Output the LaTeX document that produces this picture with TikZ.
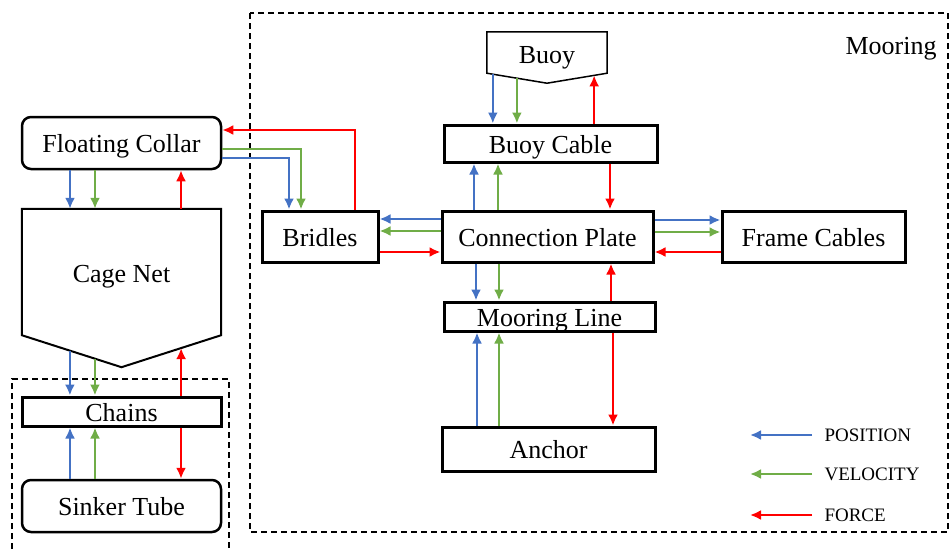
\documentclass[tikz,border=0pt]{standalone}
\usepackage{fontspec}
\setmainfont{Liberation Serif}
\usetikzlibrary{arrows.meta,calc}
\definecolor{posblue}{HTML}{4472C4}
\definecolor{velgreen}{HTML}{70AD47}
\definecolor{forcered}{HTML}{FF0000}

\begin{document}
\begin{tikzpicture}[x=1pt,y=-1pt,
  txt/.style={font=\fontsize{26}{30}\selectfont,text height=19.5pt,text depth=0pt},
  box/.style={txt,draw,line width=3pt,inner sep=0pt},
  rbox/.style={box,rounded corners=9pt,line width=2.5pt},
  ghost/.style={inner sep=0pt},
  sig/.style={line width=2.3pt,-{Latex[length=11pt,width=10pt]}},
  pa/.style={sig,posblue},
  va/.style={sig,velgreen},
  fa/.style={sig,forcered},
  region/.style={line width=1.3pt,dash pattern=on 6pt off 4pt},
  legtxt/.style={font=\fontsize{19}{22}\selectfont,anchor=west}]
\useasboundingbox (0,0) rectangle (951,549);

% dashed regions
\draw[region] (250,13) rectangle (948,532);
\draw[region] (12,549) -- (12,379) -- (229,379) -- (229,549);
\node[txt] (mooringlbl) at (891,45) {Mooring};

% cage side
\node[rbox,minimum width=199pt,minimum height=52pt] (fc) at (121.5,143) {Floating Collar};
\node[ghost,minimum width=199pt,minimum height=126pt] (cn) at (121.5,272) {};
\draw[line width=2pt,line join=miter]
  (cn.north west) -- (cn.north east) -- (cn.south east)
  -- ($(cn.south)+(0,32)$) -- (cn.south west) -- cycle;
\node[txt] (cnlbl) at (121.5,273) {Cage Net};
\node[box,minimum width=199pt,minimum height=29pt] (ch) at (121.5,411.5) {Chains};
\node[rbox,minimum width=199pt,minimum height=52pt] (st) at (121.5,506) {Sinker Tube};

% edge points on the cage net bottom
\coordinate (cnB1) at ($(cn.south west)!{48/99.5}!($(cn.south)+(0,32)$)$);
\coordinate (cnB2) at ($(cn.south west)!{73/99.5}!($(cn.south)+(0,32)$)$);
\coordinate (cnB3) at ($(cn.south east)!{40/99.5}!($(cn.south)+(0,32)$)$);

% mooring side
\node[ghost,minimum width=120pt,minimum height=41pt] (by) at (547,52.5) {};
\draw[line width=1.5pt,line join=miter]
  (by.north west) -- (by.north east) -- (by.south east)
  -- ($(by.south)+(0,10)$) -- (by.south west) -- cycle;
\node[txt] (bylbl) at (547,53.5) {Buoy};
\node[box,minimum width=213pt,minimum height=37pt] (bc) at (550.5,143.5) {Buoy Cable};
\node[box,minimum width=116pt,minimum height=51pt] (br) at (320,236.5) {Bridles};
\node[box,minimum width=211pt,minimum height=51pt] (cp) at (547.5,236.5) {Connection Plate};
\node[box,minimum width=183pt,minimum height=51pt] (fcab) at (813.5,236.5) {Frame Cables};
\node[box,minimum width=211pt,minimum height=29pt] (ml) at (549.5,316.5) {Mooring Line};
\node[box,minimum width=213pt,minimum height=44pt] (an) at (548.5,449) {Anchor};

\coordinate (byB1) at ($(by.south west)!{6/60}!($(by.south)+(0,10)$)$);
\coordinate (byB2) at ($(by.south west)!{30/60}!($(by.south)+(0,10)$)$);
\coordinate (byB3) at ($(by.south east)!{13/60}!($(by.south)+(0,10)$)$);

% floating collar <-> cage net
\draw[pa] (70,0 |- fc.south) -- (70,0 |- cn.north);
\draw[va] (95,0 |- fc.south) -- (95,0 |- cn.north);
\draw[fa] (181,0 |- cn.north) -- (181,0 |- fc.south);

% cage net <-> chains
\draw[pa] (cnB1) -- (cnB1 |- ch.north);
\draw[va] (cnB2) -- (cnB2 |- ch.north);
\draw[fa] (cnB3 |- ch.north) -- (cnB3);

% sinker tube <-> chains
\draw[pa] (70,0 |- st.north) -- (70,0 |- ch.south);
\draw[va] (95,0 |- st.north) -- (95,0 |- ch.south);
\draw[fa] (181,0 |- ch.south) -- (181,0 |- st.north);

% floating collar <-> bridles
\draw[fa] (355,0 |- br.north) -- (355,130) -- (fc.east |- 0,130);
\draw[va] (fc.east |- 0,149) -| (301,0 |- br.north);
\draw[pa] (fc.east |- 0,158) -| (289,0 |- br.north);

% buoy <-> buoy cable
\draw[pa] (byB1) -- (byB1 |- bc.north);
\draw[va] (byB2) -- (byB2 |- bc.north);
\draw[fa] (byB3 |- bc.north) -- (byB3);

% buoy cable <-> connection plate
\draw[pa] (474,0 |- cp.north) -- (474,0 |- bc.south);
\draw[va] (498,0 |- cp.north) -- (498,0 |- bc.south);
\draw[fa] (610,0 |- bc.south) -- (610,0 |- cp.north);

% connection plate <-> mooring line
\draw[pa] (476,0 |- cp.south) -- (476,0 |- ml.north);
\draw[va] (499,0 |- cp.south) -- (499,0 |- ml.north);
\draw[fa] (611,0 |- ml.north) -- (611,0 |- cp.south);

% mooring line <-> anchor
\draw[pa] (477,0 |- an.north) -- (477,0 |- ml.south);
\draw[va] (499,0 |- an.north) -- (499,0 |- ml.south);
\draw[fa] (613,0 |- ml.south) -- (613,0 |- an.north);

% connection plate <-> bridles
\draw[pa] (cp.west |- 0,219) -- (br.east |- 0,219);
\draw[va] (cp.west |- 0,231) -- (br.east |- 0,231);
\draw[fa] (br.east |- 0,252) -- (cp.west |- 0,252);

% connection plate <-> frame cables
\draw[pa] (cp.east |- 0,220) -- (fcab.west |- 0,220);
\draw[va] (cp.east |- 0,232) -- (fcab.west |- 0,232);
\draw[fa] (fcab.west |- 0,252) -- (cp.east |- 0,252);

% legend
\coordinate (lgP) at (812,435);
\coordinate (lgV) at (812,474);
\coordinate (lgF) at (812,515);
\draw[pa] (lgP) -- +(-62,0);
\draw[va] (lgV) -- +(-62,0);
\draw[fa] (lgF) -- +(-62,0);
\node[legtxt] (lgPt) at (821,435) {POSITION};
\node[legtxt] (lgVt) at (821,474) {VELOCITY};
\node[legtxt] (lgFt) at (821,515) {FORCE};
\end{tikzpicture}
\end{document}
